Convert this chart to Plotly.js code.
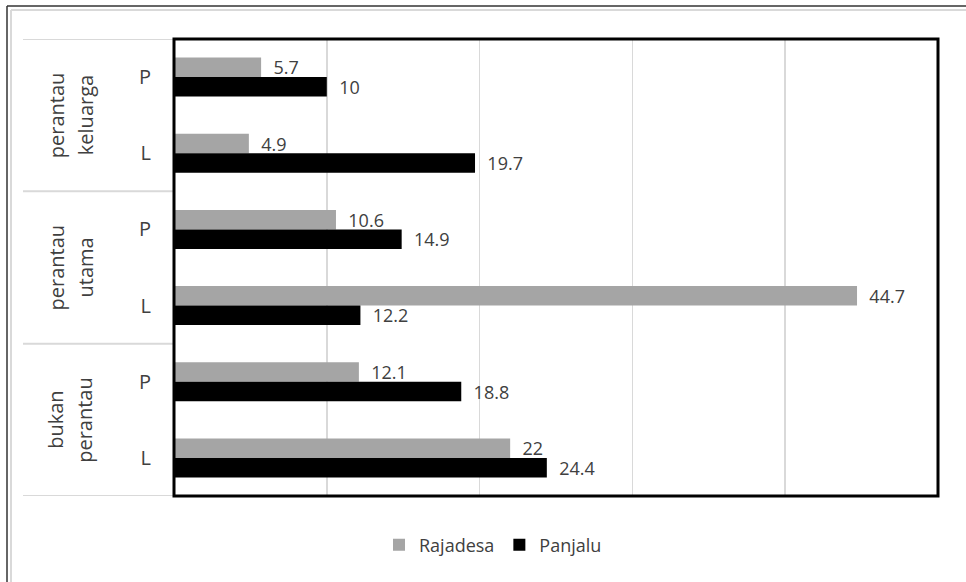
<!DOCTYPE html>
<html>
<head>
<meta charset="utf-8">
<script src="https://cdn.plot.ly/plotly-3.0.1.min.js"></script>
<style>
  html, body { margin: 0; padding: 0; background: #fff; }
  #chart { width: 966px; height: 582px; }
</style>
</head>
<body>
<div id="chart"></div>
<script>
// ---- data ----
const categories = ['perantau keluarga P', 'perantau keluarga L', 'perantau utama P', 'perantau utama L', 'bukan perantau P', 'bukan perantau L'];
const subLabels = ['P', 'L', 'P', 'L', 'P', 'L'];
const groupLabels = [['perantau', 'keluarga'], ['perantau', 'utama'], ['bukan', 'perantau']];
const groupCenters = [0.5, 2.5, 4.5];
const groupBounds = [-0.5, 1.5, 3.5, 5.5];
const seriesNames = ['Rajadesa', 'Panjalu'];
const rajadesa = [5.7, 4.9, 10.6, 44.7, 12.1, 22];
const panjalu = [10, 19.7, 14.9, 12.2, 18.8, 24.4];

// ---- style ----
const FONT = 'Open Sans, Noto Sans, sans-serif';
const TXT = '#404040';
const W = 966, H = 582;
const M = { l: 174, r: 28, t: 39, b: 86 };
const PW = W - M.l - M.r, PH = H - M.t - M.b;
const px = (x) => (x - M.l) / PW;          // pixel x -> paper x
const py = (y) => (H - M.b - y) / PH;      // pixel y -> paper y

const labelFont = { family: FONT, size: 18, color: TXT };
const traces = [
  {
    type: 'bar', orientation: 'h', name: seriesNames[0],
    y: categories, x: rajadesa,
    marker: { color: '#a5a5a5' },
    texttemplate: '\u00a0\u00a0%{x}', textposition: 'outside', constraintext: 'none', textangle: 0,
    textfont: labelFont, outsidetextfont: labelFont,
    cliponaxis: false, hoverinfo: 'x'
  },
  {
    type: 'bar', orientation: 'h', name: seriesNames[1],
    y: categories, x: panjalu,
    marker: { color: '#000000' },
    texttemplate: '\u00a0\u00a0%{x}', textposition: 'outside', constraintext: 'none', textangle: 0,
    textfont: labelFont, outsidetextfont: labelFont,
    cliponaxis: false, hoverinfo: 'x'
  }
];

const annotations = [];
groupLabels.forEach((lines, i) => {
  const xs = [56, 85];
  lines.forEach((t, j) => {
    annotations.push({
      xref: 'paper', yref: 'y', x: px(xs[j]), y: groupCenters[i],
      text: t, textangle: -90, showarrow: false,
      xanchor: 'center', yanchor: 'middle',
      font: { family: FONT, size: 20, color: TXT }
    });
  });
});

const shapes = [];
// outer chart frame (only top and left edges fall inside the picture)
shapes.push({ type: 'line', xref: 'paper', yref: 'paper', x0: px(7), x1: px(966), y0: py(6), y1: py(6), line: { color: '#333333', width: 1.5 }, layer: 'below' });
shapes.push({ type: 'line', xref: 'paper', yref: 'paper', x0: px(7), x1: px(7), y0: py(6), y1: py(582), line: { color: '#333333', width: 1.5 }, layer: 'below' });
shapes.push({ type: 'line', xref: 'paper', yref: 'paper', x0: px(11), x1: px(966), y0: py(10), y1: py(10), line: { color: '#d9d9d9', width: 2 }, layer: 'below' });
shapes.push({ type: 'line', xref: 'paper', yref: 'paper', x0: px(11), x1: px(11), y0: py(10), y1: py(582), line: { color: '#d9d9d9', width: 2 }, layer: 'below' });
// category dividers
groupBounds.forEach(b => {
  shapes.push({ type: 'line', xref: 'paper', yref: 'y', x0: px(23), x1: 0, y0: b, y1: b, line: { color: '#d9d9d9', width: 2 } });
});
// thick plot-area border
shapes.push({ type: 'rect', xref: 'paper', yref: 'paper', x0: 0, x1: 1, y0: 0, y1: 1, line: { color: '#000000', width: 3 }, layer: 'above' });

const layout = {
  width: W, height: H,
  margin: M,
  paper_bgcolor: '#ffffff', plot_bgcolor: '#ffffff',
  barmode: 'group', bargap: 0.488, bargroupgap: 0,
  font: { family: FONT, color: TXT },
  xaxis: {
    range: [0, 50], dtick: 10, tick0: 0,
    showgrid: true, gridcolor: '#d9d9d9', gridwidth: 1.5,
    zeroline: false, showticklabels: false, ticks: '', showline: false, fixedrange: true
  },
  yaxis: {
    type: 'category', categoryorder: 'array', categoryarray: categories,
    range: [5.5, -0.5],
    tickmode: 'array', tickvals: categories, ticktext: subLabels,
    ticks: '', ticklabelstandoff: 22,
    tickfont: { family: FONT, size: 20, color: TXT },
    showgrid: false, zeroline: false, showline: false, fixedrange: true
  },
  showlegend: true,
  legend: {
    orientation: 'h', x: px(493), xanchor: 'center', y: py(545), yanchor: 'middle',
    font: { family: FONT, size: 18, color: TXT },
    traceorder: 'normal', itemwidth: 30
  },
  annotations: annotations,
  shapes: shapes
};

Plotly.newPlot('chart', traces, layout, { displayModeBar: false, staticPlot: true });
</script>
</body>
</html>
